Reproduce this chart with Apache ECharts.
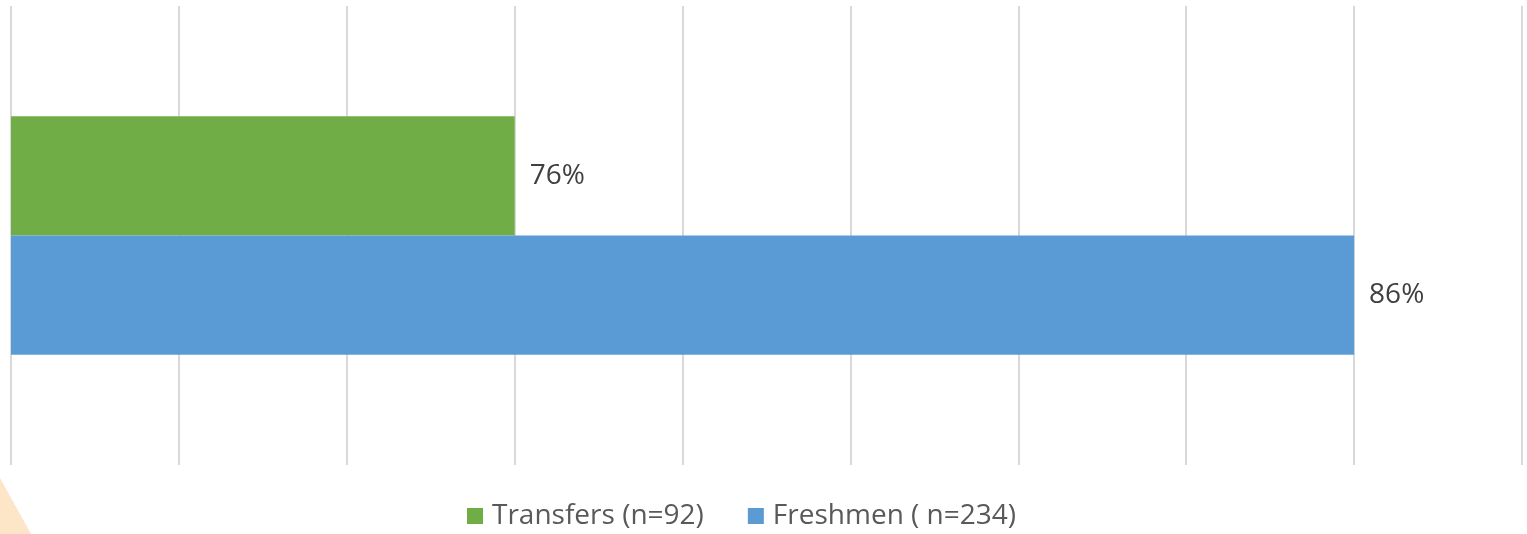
<!DOCTYPE html>
<html lang="en">
<head>
    <meta charset="UTF-8">
    <title>Transfers vs Freshmen</title>
    <style>
        html, body { margin: 0; padding: 0; background: #fff; }
        #main { width: 1527px; height: 534px; }
    </style>
</head>
<body>
    <div id="main"></div>
</body>
<script src="https://cdn.jsdelivr.net/npm/echarts@6/dist/echarts.min.js"></script>
<script>
    // data
    var categories = ['All'];
    var seriesNames = ['Transfers (n=92)', 'Freshmen ( n=234)'];
    var transfers = [76];
    var freshmen = [86];
    var seriesColors = ['#70ad47', '#5b9bd5'];

    var font = '"Open Sans", "Noto Sans", sans-serif';

    var myChart = echarts.init(document.getElementById('main'));

    var labelOpt = {
        show: true,
        position: 'right',
        distance: 15,
        formatter: '{c}%',
        fontFamily: font,
        fontSize: 28,
        color: '#404040'
    };

    var option = {
        animation: false,
        backgroundColor: '#fff',
        grid: { left: 11, right: 5, top: 6, bottom: 69, containLabel: false },
        legend: {
            top: 502,
            left: 467,
            padding: 0,
            itemWidth: 16,
            itemHeight: 16,
            itemGap: 44,
            icon: 'rect',
            data: seriesNames,
            textStyle: { fontFamily: font, fontSize: 28, color: '#595959', padding: [0, 0, 0, 4] }
        },
        xAxis: {
            type: 'value',
            min: 70,
            max: 88,
            interval: 2,
            axisLabel: { show: false },
            axisLine: { show: false },
            axisTick: { show: false },
            splitLine: { show: true, lineStyle: { color: '#d9d9d9', width: 2 } }
        },
        yAxis: {
            type: 'category',
            data: categories,
            inverse: true,
            axisLabel: { show: false },
            axisLine: { show: false },
            axisTick: { show: false }
        },
        series: [{
            name: seriesNames[0],
            type: 'bar',
            data: transfers,
            itemStyle: { color: seriesColors[0] },
            barGap: '0%',
            barCategoryGap: '48%',
            label: labelOpt
        }, {
            name: seriesNames[1],
            type: 'bar',
            data: freshmen,
            itemStyle: { color: seriesColors[1] },
            barGap: '0%',
            barCategoryGap: '48%',
            label: labelOpt
        }],
        graphic: [{
            type: 'polygon',
            shape: { points: [[0, 478], [0, 534], [31, 534]] },
            style: { fill: '#fde5c8' },
            silent: true
        }]
    };

    myChart.setOption(option);
</script>
</html>
